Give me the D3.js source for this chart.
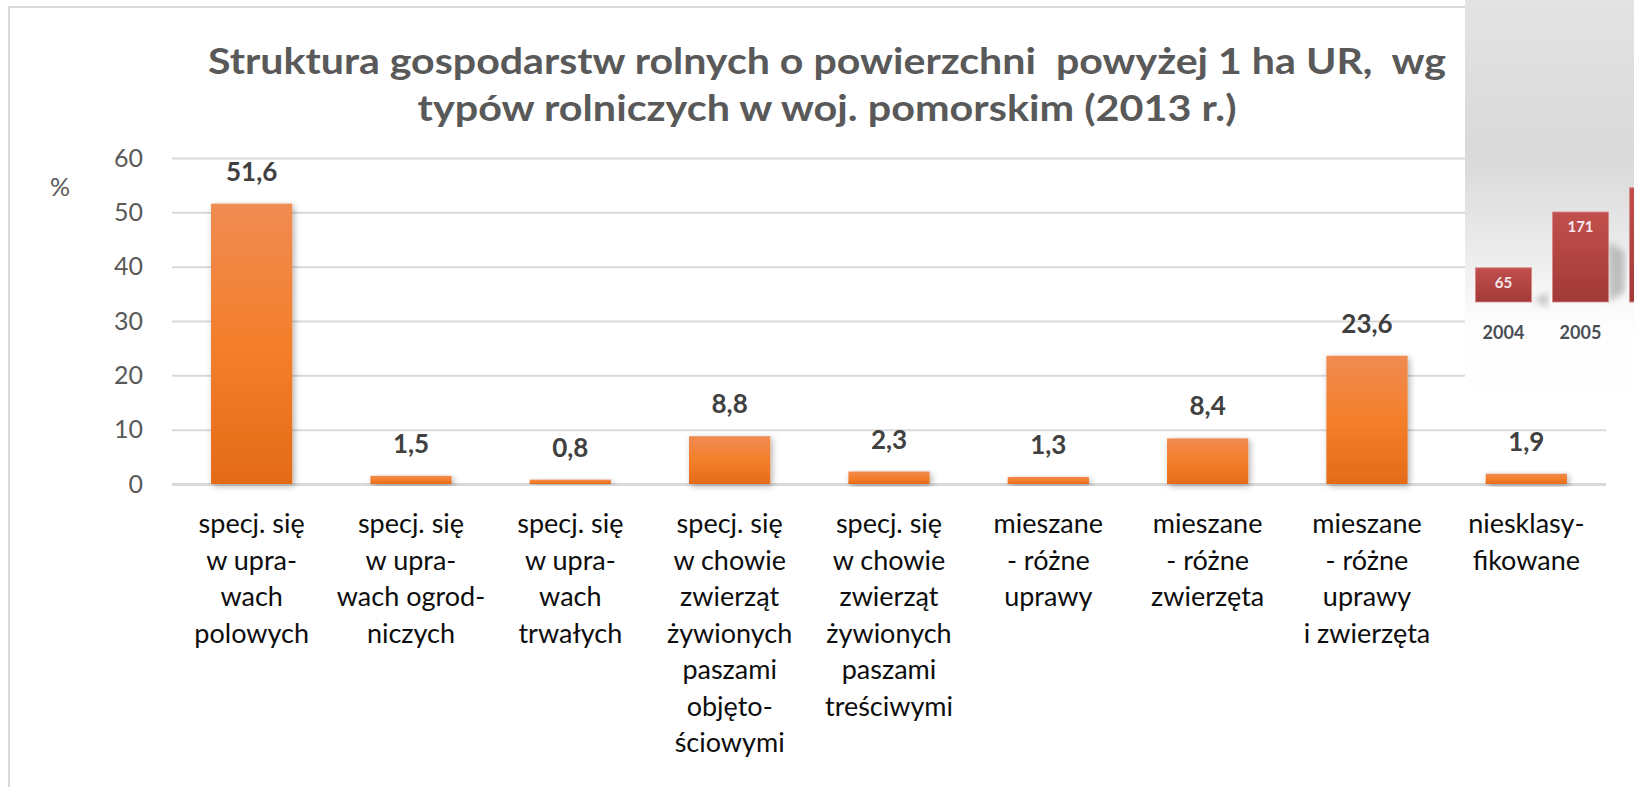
<!DOCTYPE html>
<html lang="pl">
<head>
    <meta charset="UTF-8">
    <title>Struktura gospodarstw rolnych</title>
    <script src="https://d3js.org/d3.v7.min.js"></script>
    <style>
        body { margin: 0; background: #fff; }
        svg { display: block; font-family: Lato, 'Open Sans', sans-serif; }
    </style>
</head>
<body>
    <script>
        // chart data
        const categories = [
            'polowe', 'ogrodnicze', 'trwale', 'objetosciowe', 'tresciwe',
            'uprawy', 'zwierzeta', 'uprawyZwierzeta', 'niesklasyfikowane'
        ];
        const categoryLines = [
            ['specj. się', 'w upra-', 'wach', 'polowych'],
            ['specj. się', 'w upra-', 'wach ogrod-', 'niczych'],
            ['specj. się', 'w upra-', 'wach', 'trwałych'],
            ['specj. się', 'w chowie', 'zwierząt', 'żywionych', 'paszami', 'objęto-', 'ściowymi'],
            ['specj. się', 'w chowie', 'zwierząt', 'żywionych', 'paszami', 'treściwymi'],
            ['mieszane', '- różne', 'uprawy'],
            ['mieszane', '- różne', 'zwierzęta'],
            ['mieszane', '- różne', 'uprawy', 'i zwierzęta'],
            ['niesklasy-', 'fikowane']
        ];
        const values = [51.6, 1.5, 0.8, 8.8, 2.3, 1.3, 8.4, 23.6, 1.9];
        const yTicks = [0, 10, 20, 30, 40, 50, 60];
        const titleLines = [
            'Struktura gospodarstw rolnych o powierzchni  powyżej 1 ha UR,  wg',
            'typów rolniczych w woj. pomorskim (2013 r.)'
        ];

        // the picture pasted over the top right corner
        const insetYears = ['2004', '2005', '2006'];
        const insetValues = [65, 171, 217];

        const width = 1634;
        const height = 787;
        const svg = d3.select('body')
            .append('svg')
            .attr('width', width)
            .attr('height', height);

        const defs = svg.append('defs');

        const orange = defs.append('linearGradient')
            .attr('id', 'orange')
            .attr('x1', 0).attr('y1', 0).attr('x2', 0).attr('y2', 1);
        orange.append('stop').attr('offset', '0%').attr('stop-color', '#f08b52');
        orange.append('stop').attr('offset', '50%').attr('stop-color', '#f47f2b');
        orange.append('stop').attr('offset', '100%').attr('stop-color', '#e46b18');

        const red = defs.append('linearGradient')
            .attr('id', 'red')
            .attr('x1', 0).attr('y1', 0).attr('x2', 0).attr('y2', 1);
        red.append('stop').attr('offset', '0%').attr('stop-color', '#c24f4c');
        red.append('stop').attr('offset', '100%').attr('stop-color', '#a13a37');

        const panel = defs.append('linearGradient')
            .attr('id', 'panel')
            .attr('x1', 0).attr('y1', 0).attr('x2', 0).attr('y2', 1);
        panel.append('stop').attr('offset', '0%').attr('stop-color', '#e3e3e3');
        panel.append('stop').attr('offset', '38%').attr('stop-color', '#d9d9d9');
        panel.append('stop').attr('offset', '62%').attr('stop-color', '#ececec');
        panel.append('stop').attr('offset', '78%').attr('stop-color', '#fdfdfd');
        panel.append('stop').attr('offset', '100%').attr('stop-color', '#ffffff');

        const shadow = defs.append('filter')
            .attr('id', 'shadow')
            .attr('x', '-20%').attr('y', '-20%')
            .attr('width', '140%').attr('height', '140%');
        shadow.append('feDropShadow')
            .attr('dx', 2).attr('dy', 2)
            .attr('stdDeviation', 3)
            .attr('flood-color', '#000')
            .attr('flood-opacity', 0.3);

        const blur = defs.append('filter').attr('id', 'blur');
        blur.append('feGaussianBlur').attr('stdDeviation', 3);

        // frame of the chart
        svg.append('rect')
            .attr('x', 9)
            .attr('y', 7)
            .attr('width', width + 20)
            .attr('height', height + 20)
            .attr('fill', 'none')
            .attr('stroke', '#d9d9d9')
            .attr('stroke-width', 2);

        // scales
        const x = d3.scaleBand()
            .domain(categories)
            .range([172, 1606])
            .paddingInner(0.49)
            .paddingOuter(0.245);

        const y = d3.scaleLinear()
            .domain([0, 60])
            .range([484, 158]);

        // gridlines + tick labels
        const yAxis = svg.append('g')
            .attr('transform', 'translate(172,0)')
            .call(d3.axisLeft(y)
                .tickValues(yTicks)
                .tickSize(-(1606 - 172))
                .tickPadding(29)
                .tickFormat(d3.format('d')));
        yAxis.select('.domain').remove();
        yAxis.selectAll('.tick line')
            .attr('stroke', '#d9d9d9')
            .attr('stroke-width', d => d === 0 ? 3 : 2);
        yAxis.selectAll('.tick text')
            .attr('fill', '#595959')
            .attr('font-size', 25)
            .attr('font-family', 'Lato, sans-serif');

        svg.append('text')
            .attr('x', 60)
            .attr('y', 196)
            .attr('text-anchor', 'middle')
            .attr('fill', '#595959')
            .attr('font-size', 25)
            .text('%');

        // bars
        svg.append('g')
            .selectAll('rect')
            .data(values)
            .join('rect')
            .attr('x', (d, i) => x(categories[i]))
            .attr('y', d => y(d))
            .attr('width', x.bandwidth())
            .attr('height', d => y(0) - y(d))
            .attr('fill', 'url(#orange)')
            .attr('filter', 'url(#shadow)');

        // value labels
        const pl = d3.formatLocale({ decimal: ',', thousands: ' ', grouping: [3], currency: ['', ' zł'] });
        const fmt = pl.format('.1f');
        svg.append('g')
            .selectAll('text')
            .data(values)
            .join('text')
            .attr('x', (d, i) => x(categories[i]) + x.bandwidth() / 2)
            .attr('y', d => y(d) - 23)
            .attr('text-anchor', 'middle')
            .attr('fill', '#404040')
            .attr('font-size', 26)
            .attr('font-weight', 'bold')
            .text(d => fmt(d));

        // category labels
        const catLabels = svg.append('g')
            .selectAll('text')
            .data(categoryLines)
            .join('text')
            .attr('text-anchor', 'middle')
            .attr('fill', '#0d0d0d')
            .attr('font-size', 27);
        catLabels.each(function (lines, i) {
            const cx = x(categories[i]) + x.bandwidth() / 2;
            d3.select(this).selectAll('tspan')
                .data(lines)
                .join('tspan')
                .attr('x', cx)
                .attr('y', (d, j) => 533 + j * 36.5)
                .text(d => d);
        });

        // title
        const titleWidths = [1238, 819];
        svg.append('g')
            .selectAll('text')
            .data(titleLines)
            .join('text')
            .attr('x', 827)
            .attr('y', (d, i) => 74 + i * 47)
            .attr('text-anchor', 'middle')
            .attr('fill', '#595959')
            .attr('font-size', 37)
            .attr('font-weight', 'bold')
            .attr('textLength', (d, i) => titleWidths[i])
            .attr('lengthAdjust', 'spacingAndGlyphs')
            .style('white-space', 'pre')
            .text(d => d);

        // pasted picture in the corner
        const inset = svg.append('g');
        inset.append('rect')
            .attr('x', 1465)
            .attr('y', 0)
            .attr('width', width - 1465)
            .attr('height', 410)
            .attr('fill', 'url(#panel)');

        const ix = d3.scaleBand()
            .domain(insetYears)
            .range([1465, 1696])
            .paddingInner(0.27)
            .paddingOuter(0.135);
        const iy = d3.scaleLinear()
            .domain([0, 171])
            .range([302, 212]);

        inset.append('g')
            .selectAll('path')
            .data(insetValues)
            .join('path')
            .attr('d', (d, i) => {
                const x1 = ix(insetYears[i]) + ix.bandwidth();
                return `M${x1},${iy(0)} L${x1 + 16},${iy(0) - 10} L${x1 + 16},${iy(d) + 40} L${x1},${iy(d) + 30} Z`;
            })
            .attr('fill', '#8c8c8c')
            .attr('opacity', 0.5)
            .attr('filter', 'url(#blur)');

        inset.append('g')
            .selectAll('rect')
            .data(insetValues)
            .join('rect')
            .attr('x', (d, i) => ix(insetYears[i]))
            .attr('y', d => iy(d))
            .attr('width', ix.bandwidth())
            .attr('height', d => iy(0) - iy(d))
            .attr('fill', 'url(#red)')
            .attr('stroke', '#d98a88')
            .attr('stroke-width', 0.8);

        // only the labels that fall inside the picture are visible
        const insetVisible = insetYears.filter(yr => ix(yr) + ix.bandwidth() <= width);

        inset.append('g')
            .selectAll('text')
            .data(insetVisible)
            .join('text')
            .attr('x', d => ix(d) + ix.bandwidth() / 2)
            .attr('y', d => iy(insetValues[insetYears.indexOf(d)]) + 20)
            .attr('text-anchor', 'middle')
            .attr('fill', '#f6e9f0')
            .attr('font-size', 15)
            .attr('font-weight', 'bold')
            .text(d => insetValues[insetYears.indexOf(d)]);

        inset.append('g')
            .selectAll('text')
            .data(insetVisible)
            .join('text')
            .attr('x', d => ix(d) + ix.bandwidth() / 2)
            .attr('y', 339)
            .attr('text-anchor', 'middle')
            .attr('fill', '#4a4f57')
            .attr('font-size', 18)
            .attr('font-weight', 'bold')
            .text(d => d);
    </script>
</body>
</html>
